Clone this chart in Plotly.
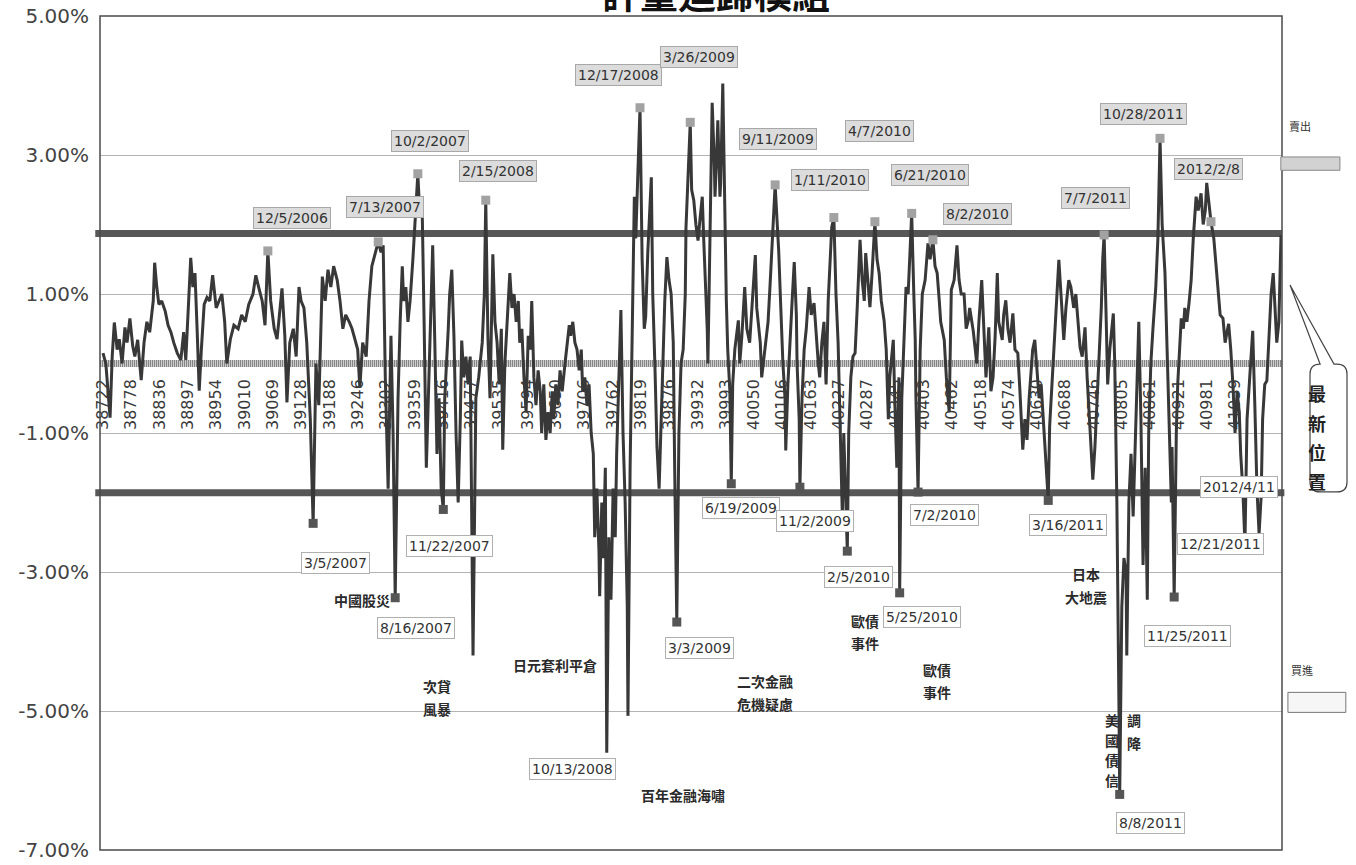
import plotly.graph_objects as go

# ---------------- data ----------------
chart_title = "評量迴歸模組"

# trading-day index of each point and deviation (%)
trade_idx = [
    0, 4, 10, 13, 16, 20, 23, 27, 31, 34,
    38, 42, 45, 49, 54, 58, 62, 66, 71, 73,
    76, 79, 83, 88, 92, 96, 100, 105, 110, 114,
    117, 120, 124, 127, 130, 133, 136, 139, 143, 147,
    151, 155, 160, 164, 168, 172, 175, 180, 185, 191,
    196, 201, 206, 212, 216, 220, 225, 229, 233, 237,
    242, 246, 250, 253, 257, 260, 264, 269, 273, 277,
    280, 284, 288, 293, 297, 301, 305, 310, 314, 318,
    322, 326, 331, 335, 339, 343, 348, 352, 356, 360,
    363, 367, 372, 376, 380, 384, 389, 393, 396, 399,
    403, 407, 410, 413, 417, 420, 423, 425, 428, 431,
    434, 438, 441, 445, 448, 451, 454, 457, 459, 464,
    466, 469, 472, 475, 478, 481, 483, 488, 490, 493,
    496, 499, 502, 505, 507, 510, 513, 516, 519, 523,
    527, 531, 536, 539, 541, 544, 547, 551, 554, 557,
    560, 563, 565, 568, 571, 575, 578, 581, 584, 587,
    589, 592, 595, 598, 601, 604, 606, 609, 612, 615,
    618, 620, 623, 626, 629, 632, 635, 637, 640, 643,
    646, 649, 653, 656, 659, 661, 664, 667, 670, 673,
    676, 678, 681, 684, 687, 690, 693, 695, 698, 701,
    702, 705, 707, 710, 712, 715, 718, 721, 724, 726,
    729, 732, 735, 738, 741, 742, 745, 748, 751, 753,
    756, 759, 762, 765, 767, 770, 775, 777, 780, 783,
    786, 789, 792, 794, 797, 800, 803, 806, 808, 811,
    814, 817, 820, 823, 824, 827, 830, 832, 835, 838,
    841, 844, 847, 849, 851, 854, 855, 858, 861, 864,
    865, 868, 869, 872, 873, 876, 879, 881, 883, 886,
    888, 890, 893, 898, 900, 903, 907, 910, 914, 917,
    922, 924, 929, 931, 936, 940, 943, 946, 950, 953,
    955, 958, 961, 964, 965, 968, 971, 974, 977, 980,
    981, 984, 985, 988, 991, 994, 998, 1001, 1005, 1008,
    1011, 1013, 1016, 1019, 1022, 1025, 1028, 1030, 1033, 1036,
    1039, 1042, 1045, 1047, 1050, 1052, 1054, 1057, 1060, 1063,
    1066, 1070, 1073, 1076, 1078, 1081, 1084, 1087, 1091, 1094,
    1097, 1100, 1104, 1107, 1110, 1112, 1117, 1119, 1122, 1125,
    1126, 1129, 1132, 1135, 1138, 1141, 1143, 1146, 1148, 1149,
    1152, 1155, 1158, 1162, 1166, 1169, 1173, 1176, 1179, 1182,
    1184, 1189, 1192, 1196, 1199, 1203, 1207, 1210, 1213, 1217,
    1220, 1223, 1225, 1230, 1233, 1235, 1238, 1242, 1245, 1248,
    1252, 1255, 1258, 1261, 1264, 1266, 1271, 1273, 1276, 1279,
    1282, 1286, 1289, 1293, 1296, 1300, 1303, 1306, 1309, 1312,
    1314, 1317, 1320, 1323, 1326, 1329, 1331, 1336, 1338, 1341,
    1344, 1348, 1351, 1354, 1358, 1361, 1365, 1368, 1372, 1375,
    1378, 1381, 1384, 1388, 1391, 1394, 1396, 1399, 1402, 1405,
    1408, 1411, 1413, 1415, 1418, 1420, 1423, 1428, 1430, 1433,
    1436, 1437, 1440, 1443, 1446, 1447, 1450, 1453, 1456, 1459,
    1462, 1464, 1467, 1470, 1473, 1476, 1478, 1481, 1484, 1488,
    1491, 1494, 1497, 1501, 1504, 1507, 1510, 1511, 1514, 1517,
    1519, 1524, 1527, 1529, 1532, 1535, 1538, 1541, 1545, 1548,
    1552, 1555, 1558, 1560, 1563, 1566, 1570, 1573, 1576, 1579,
    1583, 1586, 1589, 1591, 1594, 1597, 1600, 1603, 1606, 1608,
    1611, 1614, 1617, 1620, 1623, 1625, 1628, 1631, 1634, 1637,
    1639, 1642, 1645, 1648, 1651, 1654, 1657, 1659, 1662, 1665,
]
deviation = [
    0.15, 0.0, -0.78, 0.1, 0.59, 0.2, 0.35, 0.0, 0.52, 0.3,
    0.65, 0.25, 0.1, 0.34, -0.24, 0.3, 0.6, 0.45, 0.9, 1.45,
    1.1, 0.85, 0.9, 0.75, 0.55, 0.45, 0.3, 0.15, 0.05, 0.45,
    0.05, 0.6, 1.52, 1.1, 1.3, 0.5, -0.39, 0.2, 0.85, 0.95,
    0.9, 1.27, 0.8, 0.9, 1.0, 0.6, 0.0, 0.35, 0.55, 0.5,
    0.7, 0.6, 0.85, 1.0, 1.27, 1.1, 0.9, 0.55, 1.62, 0.9,
    0.5, 0.35, 0.8, 1.08, 0.4, -0.56, 0.3, 0.5, 0.1, 1.1,
    0.9, 0.8, 0.3, -0.8, -2.3, 0.0, -0.6, 1.25, 0.9, 1.35,
    1.1, 1.4, 1.2, 0.9, 0.5, 0.7, 0.6, 0.5, 0.35, 0.2,
    -0.35, 0.3, 0.1, 0.9, 1.4, 1.55, 1.75, 1.6, 1.7, -0.2,
    -1.8, 0.4, -1.0, -3.37, -0.5, 0.6, 1.4, 0.9, 1.1, 0.6,
    0.9, 1.5, 2.0, 2.73, 2.1, 2.3, 0.5, -1.5, -0.8, 1.0,
    1.7, 0.3, -1.3, -0.5, -1.8, -2.1, -0.5, 0.5, 1.0, 1.35,
    0.4, -1.0, -2.0, -0.8, 0.33, -0.2, 0.1, -0.3, 0.1, -4.2,
    -0.5, -0.2, 0.3, 1.0, 2.35, 0.4, -0.5, 1.57, 0.6, 0.3,
    -0.3, 0.5, -1.24, 0.0, 0.6, 1.3, 0.8, 1.0, 0.6, 0.9,
    0.3, 0.5, -0.2, -0.7, 0.4, 0.2, 0.9, -0.2, -0.6, -0.1,
    -0.4, -1.0, -0.3, -1.1, -0.7, -1.0, -0.4, -0.8, -0.3, -0.6,
    -0.1, -0.4, 0.0, 0.3, 0.55, 0.4, 0.6, 0.3, 0.2, -0.1,
    0.2, -0.4, -0.2, -0.6, -0.3, -1.0, -1.3, -2.5, -1.8, -2.7,
    -3.35, -2.0, -2.8, -1.5, -5.6, -2.5, -3.4, -1.8, -2.5, -1.3,
    -0.2, 0.77, -1.0, -2.0, -3.5, -5.07, -1.5, 0.5, 2.4, 1.8,
    2.6, 3.68, 1.5, 0.5, 0.67, 1.6, 2.68, 1.0, 0.0, -1.2,
    -1.8, -0.8, 0.2, 0.9, 1.53, 1.2, 1.0, 0.3, -1.5, -3.72,
    -1.0, 0.0, 0.2, 1.0, 1.96, 2.8, 3.47, 2.5, 2.35, 2.0,
    1.77, 2.1, 2.4, 1.8, 1.3, 0.5, 0.0, 1.8, 3.75, 2.9,
    2.4, 3.2, 3.5, 2.4, 2.6, 4.03, 2.0, 0.91, 0.2, -0.4,
    -1.73, -0.3, 0.2, 0.62, 0.0, 0.4, 1.1, 0.5, 0.3, 0.8,
    1.56, 0.8, 0.3, -0.2, 0.3, 0.6, 1.16, 1.8, 2.57, 2.0,
    1.63, 0.8, 0.0, -0.5, -1.25, -0.3, 0.4, 0.9, 1.46, 0.7,
    0.0, -0.8, -1.78, -0.5, 0.2, 0.5, 1.1, 0.7, 0.87, 0.4,
    0.0, -0.2, 0.3, 0.6, -0.3, 0.9, 1.5, 1.96, 2.1, 1.0,
    0.3, -0.9, -2.2, -1.0, -2.0, -2.7, -1.0, -0.2, 0.1, 0.15,
    0.8, 1.78, 1.2, 0.9, 1.59, 1.2, 0.81, 1.3, 2.04, 1.5,
    1.3, 0.9, 0.62, 0.2, -0.8, -0.2, 0.34, -0.5, -1.5, -0.2,
    -3.3, -0.5, 0.3, 1.1, 1.0, 1.6, 2.16, 1.0, 0.34, -0.5,
    -1.85, 0.2, 1.0, 1.2, 1.73, 1.5, 1.78, 1.4, 1.3, 0.9,
    0.6, 0.34, -0.2, -0.7, 1.06, 1.2, 1.7, 1.2, 1.0, 1.0,
    0.5, 0.62, 0.8, 0.47, 0.2, 0.0, 0.6, 1.2, 0.5, -0.2,
    0.52, -0.4, -0.2, 0.4, 1.3, 0.6, 0.34, 0.7, 0.91, 0.5,
    0.3, 0.72, 0.2, 0.15, -0.4, -1.24, -0.8, -1.1, -0.5, 0.0,
    0.2, 0.34, -0.1, -0.5, -0.3, -0.8, -1.2, -1.97, -0.9, -0.3,
    0.2, 0.9, 1.49, 1.0, 0.34, 0.8, 1.2, 1.1, 0.8, 1.0,
    0.6, 0.23, 0.1, 0.52, -0.2, -0.8, -1.2, -1.67, -1.2, -0.6,
    0.0, 0.8, 1.5, 1.85, 0.6, -0.3, 0.2, 0.72, 0.0, -2.0,
    -5.0, -6.2, -3.5, -2.8, -3.0, -4.2, -2.0, -1.3, -2.2, -1.0,
    0.0, 0.6, -0.8, -2.9, -1.5, -3.4, -1.0, 0.0, 0.5, 1.1,
    1.8, 3.24, 2.0, 1.3, 0.2, -0.8, -2.0, -1.2, -3.36, -1.0,
    -0.3, 0.65, 0.5, 0.8, 0.6, 0.87, 1.2, 1.8, 2.4, 2.2,
    2.45, 2.0, 2.2, 2.6, 2.3, 2.04, 1.8, 1.39, 1.0, 0.7,
    0.65, 0.3, 0.47, 0.57, 0.2, -0.3, -1.0, -0.4, -0.7, -1.3,
    -1.8, -2.6, -0.8, -0.3, 0.2, 0.47, -0.6, -1.8, -2.45, -1.9,
    -0.8, -0.3, -0.25, 0.4, 1.0, 1.3, 0.8, 0.3, 0.6, 1.85,
]
assert len(trade_idx) == len(deviation)

# category tick labels (Excel date serials), one every 40 trading days
tick_labels = [
    "38722", "38778", "38836", "38897", "38954", "39010", "39069", "39128", "39188", "39246",
    "39302", "39359", "39416", "39477", "39535", "39594", "39650", "39706", "39762", "39819",
    "39876", "39932", "39993", "40050", "40106", "40163", "40227", "40287", "40345", "40403",
    "40462", "40518", "40574", "40630", "40688", "40746", "40805", "40861", "40921", "40981",
    "41039",
]
tick_step = 40

ytick_vals = [5, 3, 1, -1, -3, -5, -7]

sell_level = 1.87
buy_level = -1.86
zero_level = 0.0

# sell-signal peaks (date label, trading index)
sell_dates = ["12/5/2006", "7/13/2007", "10/2/2007", "2/15/2008", "12/17/2008", "3/26/2009",
              "9/11/2009", "1/11/2010", "4/7/2010", "6/21/2010", "8/2/2010", "7/7/2011",
              "10/28/2011", "2012/2/8"]
sell_idx = [233, 389, 445, 541, 759, 830, 950, 1033, 1091, 1143, 1173, 1415, 1494, 1566]

# buy-signal troughs
buy_dates = ["3/5/2007", "8/16/2007", "11/22/2007", "3/3/2009", "6/19/2009", "11/2/2009",
             "2/5/2010", "5/25/2010", "7/2/2010", "3/16/2011", "8/8/2011", "11/25/2011"]
buy_idx = [297, 413, 481, 811, 888, 985, 1052, 1126, 1152, 1336, 1437, 1514]

# dates labelled without a marker
extra_dates = ["10/13/2008", "12/21/2011", "2012/4/11"]
extra_idx = [712, 1614, 1634]

# event notes: (lines, trading index, level %)
event_text = [["中國股災"], ["次貸", "風暴"], ["日元套利平倉"], ["百年金融海嘯"],
              ["二次金融", "危機疑慮"], ["歐債", "事件"], ["歐債", "事件"], ["日本", "大地震"],
              ["美", "國", "債", "信"], ["調", "降"]]
event_idx = [366, 472, 639, 820, 936, 1077, 1179, 1389, 1426, 1457]
event_val = [-3.40, -4.81, -4.34, -6.21, -4.73, -3.86, -4.57, -3.19, -5.56, -5.29]

# ---------------- layout / styling ----------------
sell_offsets = [(24, -33), (7, -35), (12, -33), (12, -29), (-22, -33), (9, -65), (3, -46),
                (-4, -38), (5, -91), (18, -38), (45, -26), (-9, -37), (-17, -24), (-2, -53)]
buy_offsets = [(22, 40), (21, 30), (6, 37), (23, 26), (10, 24), (15, 34), (11, 26), (22, 24),
               (26, 23), (20, 25), (31, 29), (13, 39)]
extra_offsets = [(-34, 16), (-24, 0), (-20, -47)]
event_spacing = [23, 23, 23, 23, 23, 22, 22, 23, 20, 23]

series = dict(zip(trade_idx, deviation))

LINE_C = "#383838"
LABEL_FONT = dict(family="DejaVu Sans", size=14, color="#333333")
CJK = "Noto Sans CJK TC"

fig = go.Figure()

fig.add_trace(go.Scatter(x=trade_idx, y=deviation, mode="lines",
                         line=dict(color=LINE_C, width=3), hoverinfo="skip"))
fig.add_trace(go.Scatter(x=sell_idx, y=[series[i] for i in sell_idx], mode="markers",
                         marker=dict(symbol="square", size=9, color="#a2a2a2"), hoverinfo="skip"))
fig.add_trace(go.Scatter(x=buy_idx, y=[series[i] for i in buy_idx], mode="markers",
                         marker=dict(symbol="square", size=9, color="#555555"), hoverinfo="skip"))

shapes = [
    dict(type="line", xref="paper", yref="y", x0=0, x1=1, y0=zero_level, y1=zero_level,
         line=dict(color="#cdcdcd", width=7), layer="below"),
    dict(type="line", xref="paper", yref="y", x0=0, x1=1, y0=zero_level, y1=zero_level,
         line=dict(color="#858585", width=7, dash="1px,1px"), layer="below"),
    dict(type="line", xref="paper", yref="y", x0=-0.004, x1=1.0, y0=sell_level, y1=sell_level,
         line=dict(color="#575757", width=7), layer="below"),
    dict(type="line", xref="paper", yref="y", x0=-0.004, x1=1.002, y0=buy_level, y1=buy_level,
         line=dict(color="#575757", width=7), layer="below"),
    dict(type="rect", xref="paper", yref="paper", x0=0, x1=1, y0=0, y1=1,
         line=dict(color="#4a4a4a", width=1.5), layer="above"),
    # sell / buy legend boxes on the right
    dict(type="rect", xref="paper", yref="paper", x0=0.999, x1=1.049, y0=0.815, y1=0.831,
         line=dict(color="#888888", width=1), fillcolor="#d2d2d2"),
    dict(type="rect", xref="paper", yref="paper", x0=1.005, x1=1.054, y0=0.165, y1=0.189,
         line=dict(color="#777777", width=1), fillcolor="#f6f6f6"),
    # callout bubble for latest position
    dict(type="path", xref="paper", yref="paper",
         path=("M 1.0322 0.5827 L 1.0068 0.6775 L 1.0440 0.5827 L 1.0465 0.5827 "
               "Q 1.0550 0.5827 1.0550 0.5707 L 1.0550 0.4413 Q 1.0550 0.4293 1.0465 0.4293 "
               "L 1.0322 0.4293 Q 1.0237 0.4293 1.0237 0.4413 L 1.0237 0.5707 "
               "Q 1.0237 0.5827 1.0322 0.5827 Z"),
         line=dict(color="#444444", width=1.2), fillcolor="white"),
]

annotations = []
for d, i, (dx, dy) in zip(sell_dates, sell_idx, sell_offsets):
    annotations.append(dict(x=i, y=series[i], xref="x", yref="y", text=d, showarrow=False,
                            xshift=dx, yshift=-dy, font=LABEL_FONT, bgcolor="#dcdcdc",
                            bordercolor="#a8a8a8", borderwidth=1, borderpad=2))
for d, i, (dx, dy) in zip(buy_dates, buy_idx, buy_offsets):
    annotations.append(dict(x=i, y=series[i], xref="x", yref="y", text=d, showarrow=False,
                            xshift=dx, yshift=-dy, font=LABEL_FONT, bgcolor="white",
                            bordercolor="#b0b0b0", borderwidth=1, borderpad=2))
for d, i, (dx, dy) in zip(extra_dates, extra_idx, extra_offsets):
    annotations.append(dict(x=i, y=series[i], xref="x", yref="y", text=d, showarrow=False,
                            xshift=dx, yshift=-dy, font=LABEL_FONT, bgcolor="white",
                            bordercolor="#b0b0b0", borderwidth=1, borderpad=2))
for lines, i, v, sp in zip(event_text, event_idx, event_val, event_spacing):
    n = len(lines)
    for k, t in enumerate(lines):
        annotations.append(dict(x=i, y=v, xref="x", yref="y", text="<b>" + t + "</b>",
                                showarrow=False, yshift=((n - 1) / 2 - k) * sp,
                                font=dict(family=CJK, size=14, color="#2a2a2a")))

# title (top part cut off by page edge, as in the source)
annotations.append(dict(x=0.521, y=1.029, xref="paper", yref="paper", text="<b>" + chart_title + "</b>",
                        showarrow=False, yanchor="middle",
                        font=dict(family=CJK, size=38, color="#111111")))
annotations.append(dict(x=1.026, y=0.880, xref="paper", yref="paper", text="賣出", showarrow=False,
                        font=dict(family=CJK, size=11, color="#333333")))
annotations.append(dict(x=1.028, y=0.204, xref="paper", yref="paper", text="買進", showarrow=False,
                        font=dict(family=CJK, size=11, color="#333333")))
for ch, py in zip("最新位置", [393, 423, 452, 481]):
    annotations.append(dict(x=1.039, y=(850 - py) / 834, xref="paper", yref="paper",
                            text="<b>" + ch + "</b>", showarrow=False,
                            font=dict(family=CJK, size=18, color="#222222")))

fig.update_layout(
    width=1356, height=865,
    margin=dict(l=100, r=74, t=16, b=15, autoexpand=False),
    paper_bgcolor="white", plot_bgcolor="white",
    showlegend=False,
    xaxis=dict(range=[-4.24, 1666.4], tickmode="array",
               tickvals=[k * tick_step for k in range(len(tick_labels))], ticktext=tick_labels,
               tickangle=-90, anchor="free", position=0.584, automargin=False,
               showgrid=False, zeroline=False, showline=False, ticks="",
               ticklabelstandoff=12,
               tickfont=dict(family="DejaVu Sans", size=16, color="#3a3a3a")),
    yaxis=dict(range=[-7, 5], tickmode="array", tickvals=ytick_vals,
               ticktext=[f"{v:.2f}%" for v in ytick_vals], automargin=False,
               showgrid=True, gridcolor="#b4b4b4", gridwidth=1,
               zeroline=False, showline=False, ticks="", ticklabelstandoff=10,
               tickfont=dict(family="DejaVu Sans", size=20, color="#444444")),
    shapes=shapes,
    annotations=annotations,
)

fig.write_html("out.html", config={"displayModeBar": False},
               post_script="document.body.style.margin='0';document.body.style.overflow='hidden';")
